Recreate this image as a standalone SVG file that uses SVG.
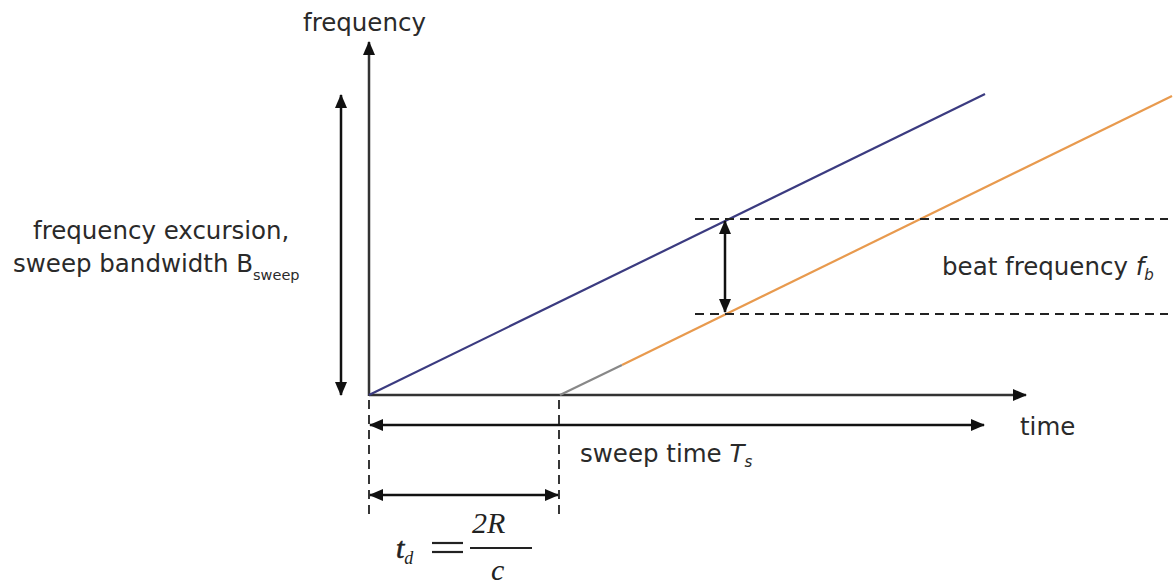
<svg xmlns="http://www.w3.org/2000/svg" width="1174" height="584" viewBox="0 0 1174 584">
<style>
.t{font-family:"DejaVu Sans",Verdana,sans-serif;font-size:24.5px;fill:#2a2a2a}
.m{font-family:"Liberation Serif","Times New Roman",serif;font-style:italic;fill:#222}
.ax{stroke:#333;stroke-width:2.5;fill:none}
.ar{stroke:#111;stroke-width:2.5;fill:none}
.dash{stroke:#222;stroke-width:1.8;stroke-dasharray:9 6;fill:none}
</style>
<defs>
<marker id="ah" viewBox="0 0 14 12" refX="13" refY="6" markerWidth="14" markerHeight="12" markerUnits="userSpaceOnUse" orient="auto-start-reverse">
<path d="M0,0 L14,6 L0,12 Z" fill="#111"/>
</marker>
</defs>
<rect width="1174" height="584" fill="#fff"/>
<g id="connectors">
<line class="ax" x1="369" y1="396" x2="369" y2="42" marker-end="url(#ah)"/>
<line class="ax" x1="369" y1="395" x2="1026" y2="395" marker-end="url(#ah)"/>
<line x1="369" y1="395" x2="985" y2="94" stroke="#3b3b80" stroke-width="2.2"/>
<line x1="560" y1="395" x2="622" y2="365" stroke="#888" stroke-width="2.2"/>
<line x1="622" y1="365" x2="1172" y2="96" stroke="#e89a4e" stroke-width="2.2"/>
<line class="dash" x1="695" y1="219" x2="1168" y2="219"/>
<line class="dash" x1="695" y1="314" x2="1168" y2="314"/>
<line class="ar" x1="725" y1="221" x2="725" y2="312" marker-start="url(#ah)" marker-end="url(#ah)"/>
<line class="ar" x1="341" y1="95" x2="341" y2="395" marker-start="url(#ah)" marker-end="url(#ah)"/>
<line class="ar" x1="370" y1="425" x2="984" y2="425" marker-start="url(#ah)" marker-end="url(#ah)"/>
<line class="dash" x1="369" y1="400" x2="369" y2="515"/>
<line class="dash" x1="559" y1="400" x2="559" y2="515"/>
<line class="ar" x1="370" y1="495" x2="558" y2="495" marker-start="url(#ah)" marker-end="url(#ah)"/>
</g>
<g id="label-frequency"><text class="t" x="303" y="31">frequency</text></g>
<g id="label-excursion">
<text class="t" x="33" y="239">frequency excursion,</text>
<text class="t" x="13" y="272">sweep bandwidth B<tspan font-size="14.5" dy="8">sweep</tspan></text>
</g>
<g id="label-beat"><text class="t" x="942" y="275">beat frequency <tspan font-style="italic">f</tspan><tspan font-style="italic" font-size="15" dy="5">b</tspan></text></g>
<g id="label-time"><text class="t" x="1020" y="435">time</text></g>
<g id="label-sweep"><text class="t" x="580" y="462">sweep time <tspan font-style="italic">T</tspan><tspan font-style="italic" font-size="15" dy="5">s</tspan></text></g>
<g id="label-td">
<text class="m" x="396" y="558" font-size="30" stroke="#222" stroke-width="0.6">t<tspan font-size="18" dy="6" stroke-width="0">d</tspan></text>
<line x1="432" y1="543" x2="463" y2="543" stroke="#222" stroke-width="2.2"/>
<line x1="432" y1="552" x2="463" y2="552" stroke="#222" stroke-width="2.2"/>
<text class="m" x="472" y="533" font-size="30" font-style="normal">2<tspan font-style="italic">R</tspan></text>
<line x1="470" y1="548" x2="532" y2="548" stroke="#222" stroke-width="2"/>
<text class="m" x="491" y="580" font-size="30">c</text>
</g>
</svg>
